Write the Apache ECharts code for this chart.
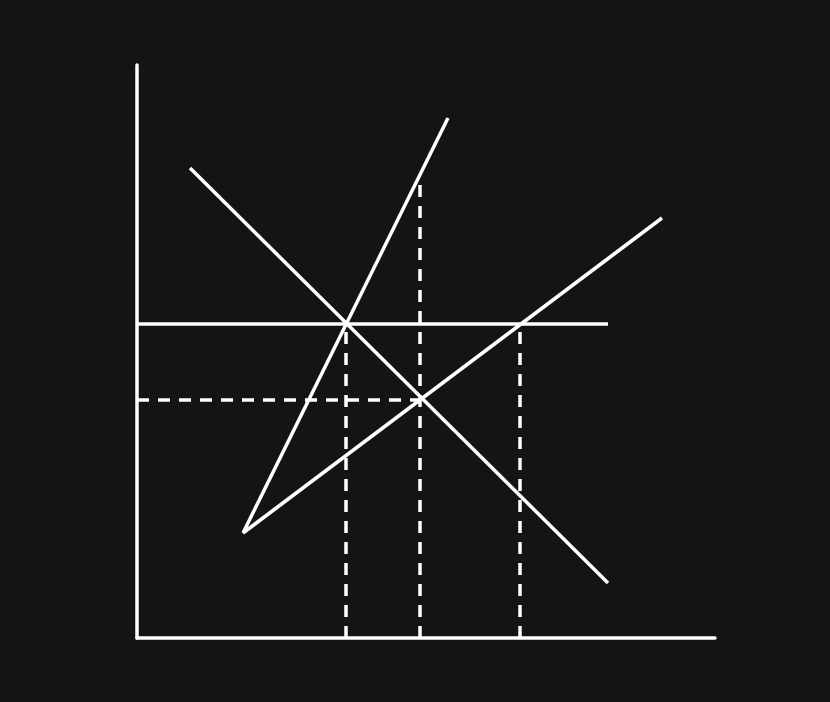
<!DOCTYPE html>
<html><head><meta charset="utf-8">
<script src="https://cdn.jsdelivr.net/npm/echarts@6/dist/echarts.min.js"></script>
<style>html,body{margin:0;background:#141414;}#c{width:830px;height:702px;}</style>
</head><body><div id="c"></div>
<script>
// Data coordinates (quantity, price) in chart units
const msc = [[106,105],[311,520]];
const mpc = [[106,105],[525,420]];
const mpb = [[53,470],[471,55]];
const minLine = [[0,314],[471,314]];
const peLine = [[0,238],[283,238]];
const vQstar = [[209,0],[209,314]];
const vQe = [[283,0],[283,455]];
const vQs = [[383,0],[383,314]];
const labels = [
  {t:'MSC\n(ideal)', p:[365,532], a:'center'},
  {t:'MPC\n(actual)', p:[583,422], a:'center'},
  {t:'Min', p:[482,314], a:'left'},
  {t:'MPB=MSB', p:[482,56], a:'left'},
  {t:'X', p:[253,334], a:'center'},
  {t:'{n|P}{s|m}{n|=P*}', p:[-7,314], a:'right'},
  {t:'{n|P}{s|e}', p:[-7,236], a:'right'},
  {t:'{n|Q}{s|d}{n|=Q*}', p:[185,-29], a:'center'},
  {t:'{n|Q}{s|e}', p:[283,-29], a:'center'},
  {t:'{n|Q}{s|S}', p:[383,-29], a:'center'},
  {t:'Quantity', p:[518,-29], a:'left'},
  {t:'Price/cost/benefit', p:[-119,601], a:'left'}
];
const font = 'Liberation Sans, Arial, sans-serif';
function line(d, dashed){return {type:'line',data:d,symbol:'none',silent:true,
  lineStyle:{color:'#fff',width:3.5,type:dashed?[12,9]:'solid'}};}
const chart = echarts.init(document.getElementById('c'));
chart.setOption({
  backgroundColor:'#141414', animation:false,
  grid:{left:137,right:115,top:65,bottom:64},
  xAxis:{type:'value',min:0,max:578,axisLine:{show:true,onZero:false,lineStyle:{color:'#fff',width:3.5}},
    axisTick:{show:false},axisLabel:{show:false},splitLine:{show:false}},
  yAxis:{type:'value',min:0,max:573,axisLine:{show:true,onZero:false,lineStyle:{color:'#fff',width:3.5}},
    axisTick:{show:false},axisLabel:{show:false},splitLine:{show:false}},
  series:[line(msc),line(mpc),line(mpb),line(minLine),
    line(peLine,true),line(vQstar,true),line(vQe,true),line(vQs,true),
    {type:'scatter',symbolSize:1,clip:false,silent:true,itemStyle:{opacity:0},
     data:labels.map(l=>({value:l.p,label:{show:true,formatter:l.t,position:'inside',align:l.a,
       verticalAlign:'middle',color:'#fff',textBorderWidth:0,fontSize:26,fontFamily:font,lineHeight:36,
       rich:{n:{fontSize:26,color:'#fff',textBorderWidth:0,fontFamily:font},s:{fontSize:18,color:'#fff',textBorderWidth:0,fontFamily:font,padding:[12,0,0,0]}}}})),
    }]
});
</script></body></html>
